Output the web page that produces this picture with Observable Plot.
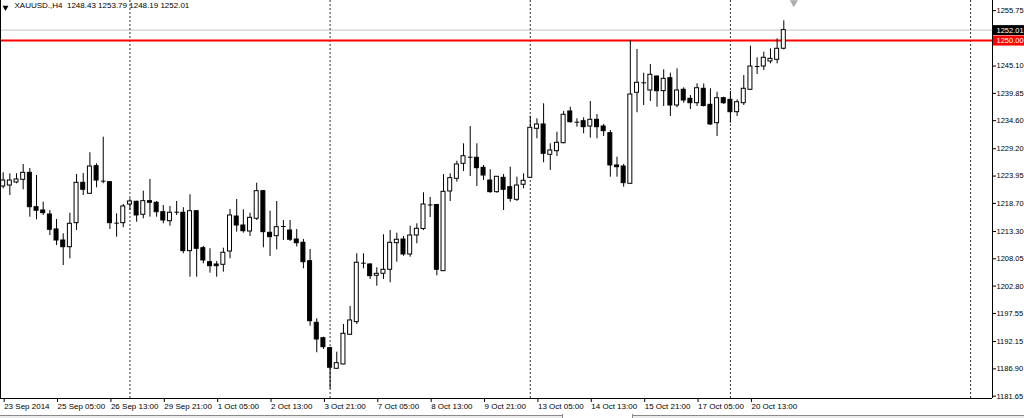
<!DOCTYPE html>
<html><head><meta charset="utf-8">
<script src="https://cdn.jsdelivr.net/npm/d3@7"></script>
<script src="https://cdn.jsdelivr.net/npm/@observablehq/plot@0.6"></script>
<style>
body{margin:0;background:#fff;}
#wrap{position:relative;width:1024px;height:418px;overflow:hidden;}
#tabs{position:absolute;left:0;top:415px;width:1024px;height:3px;background:#ececec;border-top:1px solid #8a8a8a;}
#tab{position:absolute;left:562px;top:414px;width:69px;height:4px;background:#fff;border-left:1px solid #8a8a8a;border-right:1px solid #8a8a8a;}
</style></head><body><div id="wrap"></div>
<script>
const symbolName = "XAUUSD.,H4";
const opens = [1221.95,1222.14,1222.72,1223.24,1224.58,1217.97,1217.34,1216.57,1213.69,1211.57,
1210.28,1214.90,1222.66,1220.55,1225.85,1222.97,1222.78,1214.90,1214.90,1218.49,
1219.01,1216.51,1219.13,1218.82,1217.01,1215.28,1217.01,1216.90,1209.52,1217.20,
1210.09,1207.40,1206.96,1206.90,1209.46,1216.18,1214.45,1213.30,1215.74,1221.05,
1213.05,1212.40,1214.26,1213.49,1211.76,1211.13,1207.59,1195.75,1192.79,1190.87,
1186.91,1187.74,1193.45,1195.87,1207.21,1206.96,1204.79,1205.17,1205.94,1211.05,
1211.76,1208.88,1212.53,1213.78,1218.40,1218.40,1205.67,1220.99,1223.43,1226.31,
1227.58,1227.47,1225.54,1223.10,1220.86,1223.62,1221.82,1219.39,1222.28,1223.62,
1233.04,1233.87,1228.04,1228.73,1230.27,1236.37,1234.31,1234.50,1233.48,1234.77,
1233.48,1232.20,1225.99,1225.79,1222.47,1239.96,1241.88,1240.40,1243.09,1240.27,
1242.77,1237.52,1240.54,1238.81,1237.96,1240.73,1237.65,1234.12,1238.92,1238.61,
1236.23,1237.96,1240.54,1245.01,1245.01,1245.98,1246.30,1248.43];
const highs = [1224.58,1224.39,1224.39,1226.18,1225.41,1224.06,1218.93,1217.34,1215.61,1212.86,
1216.82,1224.26,1224.45,1228.43,1226.31,1231.43,1222.85,1216.70,1218.49,1219.59,
1219.13,1221.05,1223.30,1219.07,1218.30,1218.11,1219.07,1217.86,1220.36,1217.34,
1210.42,1209.98,1207.54,1210.09,1217.53,1219.45,1217.47,1216.82,1222.59,1221.20,
1217.20,1219.07,1215.42,1215.42,1213.69,1211.76,1209.84,1196.52,1192.99,1191.06,
1190.10,1195.43,1198.89,1209.02,1209.02,1207.09,1206.33,1212.67,1213.49,1212.98,
1212.34,1214.32,1214.78,1220.74,1219.84,1218.49,1224.26,1224.39,1226.81,1230.16,
1233.48,1230.16,1225.99,1225.16,1223.87,1224.26,1225.66,1223.74,1224.39,1235.46,
1234.96,1237.85,1230.16,1232.39,1236.37,1237.19,1234.96,1235.15,1238.29,1235.79,
1233.87,1232.71,1227.58,1226.18,1250.00,1248.28,1243.73,1245.40,1243.15,1244.38,
1243.73,1244.57,1240.92,1239.44,1241.69,1241.65,1240.73,1240.08,1239.11,1240.21,
1238.61,1243.28,1248.92,1246.69,1247.76,1248.42,1250.34,1253.79];
const lows = [1221.51,1220.22,1222.47,1221.32,1216.05,1215.55,1216.38,1212.53,1210.61,1206.77,
1208.05,1213.49,1220.22,1220.41,1221.70,1222.47,1213.69,1212.21,1214.01,1217.34,
1215.09,1215.74,1216.05,1216.05,1214.78,1214.32,1216.38,1209.02,1204.52,1204.52,
1207.09,1205.29,1204.52,1205.48,1208.05,1213.17,1212.98,1212.34,1215.42,1210.17,
1208.50,1209.78,1211.57,1211.38,1210.32,1206.13,1195.10,1189.99,1190.62,1183.00,
1186.78,1187.68,1193.31,1195.43,1206.13,1204.08,1202.79,1204.08,1203.44,1207.40,
1208.55,1208.36,1210.94,1213.49,1215.99,1204.79,1205.67,1219.07,1222.78,1224.83,
1223.87,1221.95,1223.10,1220.66,1220.66,1217.34,1218.93,1219.07,1221.51,1223.50,
1231.12,1226.51,1225.03,1227.72,1230.16,1234.12,1233.35,1232.08,1231.23,1231.12,
1231.56,1223.74,1223.74,1221.82,1222.40,1236.12,1237.52,1238.29,1237.19,1237.33,
1235.40,1237.08,1237.96,1236.75,1237.33,1237.23,1233.67,1231.56,1237.71,1234.12,
1235.40,1237.52,1240.40,1243.48,1244.25,1245.53,1245.53,1248.19];
const closes = [1223.10,1223.10,1223.30,1224.58,1217.97,1217.28,1216.82,1213.63,1211.57,1210.28,
1214.78,1222.66,1221.32,1225.79,1223.10,1222.85,1214.90,1214.94,1218.11,1219.07,
1216.38,1219.13,1218.82,1217.01,1215.42,1216.90,1217.01,1209.52,1217.20,1209.98,
1207.73,1206.63,1206.63,1209.21,1216.38,1214.45,1213.36,1215.93,1221.05,1213.17,
1212.21,1214.13,1214.26,1211.71,1211.05,1207.40,1196.06,1192.54,1191.06,1187.11,
1187.99,1193.64,1196.20,1207.29,1207.21,1204.71,1205.17,1205.94,1211.13,1211.71,
1208.88,1212.53,1213.82,1218.49,1218.40,1205.94,1220.93,1223.55,1226.18,1227.77,
1227.47,1225.47,1224.06,1220.86,1223.82,1221.32,1219.59,1222.14,1223.05,1233.23,
1233.87,1228.24,1228.87,1230.35,1235.73,1234.31,1234.31,1233.35,1234.77,1233.35,
1232.58,1225.99,1225.66,1222.59,1239.63,1241.88,1241.88,1243.42,1240.27,1242.65,
1237.52,1240.40,1238.48,1237.96,1240.84,1237.42,1233.87,1238.92,1237.96,1236.23,
1238.15,1240.73,1245.01,1245.01,1246.69,1246.49,1248.42,1252.01];

const priceTicks = [1255.75,1245.10,1239.85,1234.60,1229.20,1223.95,1218.70,1213.30,1208.05,1202.80,1197.55,1192.15,1186.90,1181.65];
const timeTickBars = [0,8,16,24,32,40,48,56,64,72,80,88,96,104,112];
const timeTickLabels = ["23 Sep 2014","25 Sep 05:00","26 Sep 13:00","29 Sep 21:00","1 Oct 05:00","2 Oct 13:00","3 Oct 21:00","7 Oct 05:00","8 Oct 13:00","9 Oct 21:00","13 Oct 05:00","14 Oct 13:00","15 Oct 21:00","17 Oct 05:00","20 Oct 13:00"];
const weekSeparators = [19,49,79,109,145];
const levelLine = 1250.00;
const shiftMarkerBar = 118.5;

const candles = opens.map((o,i)=>({i,o,h:highs[i],l:lows[i],c:closes[i]}));
const last = candles[candles.length-1];
const bid = last.c;
const isDoji = d => Math.abs(d.c-d.o) < 0.15;
const bull = candles.filter(d=>!isDoji(d) && d.c>d.o);
const bear = candles.filter(d=>!isDoji(d) && d.c<d.o);
const doji = candles.filter(isDoji);

const xDom = [-0.4, 148.28];
const xEdge = 153.1;
const yDom = [1181.20, 1257.70];
const f2 = d=>d.toFixed(2);
const title = `${symbolName}  ${f2(last.o)} ${f2(last.h)} ${f2(last.l)} ${f2(last.c)}`;

const chart = Plot.plot({
  width:1024, height:418,
  marginTop:0, marginBottom:20, marginLeft:0, marginRight:32,
  style:{fontFamily:"Liberation Sans, Arial, sans-serif", fontSize:"8px", color:"#000", background:"#fff", overflow:"visible"},
  x:{type:"linear", domain:xDom, axis:null},
  y:{type:"linear", domain:yDom, axis:null},
  marks:[
    Plot.ruleY([bid], {stroke:"#c4c4c4"}),
    Plot.ruleX(weekSeparators, {x:d=>d, stroke:"#333", strokeDasharray:"2,2"}),
    Plot.ruleY([levelLine], {stroke:"#ff0000", strokeWidth:2}),
    Plot.ruleX(candles, {x:"i", y1:"l", y2:"h", stroke:"#000"}),
    Plot.rect(bull, {x1:d=>d.i-0.3, x2:d=>d.i+0.3, y1:"o", y2:"c", fill:"#fff", stroke:"#000"}),
    Plot.rect(bear, {x1:d=>d.i-0.3, x2:d=>d.i+0.3, y1:"o", y2:"c", fill:"#000", stroke:"#000"}),
    Plot.link(doji, {x1:d=>d.i-0.35, x2:d=>d.i+0.35, y1:"o", y2:"o", stroke:"#000"}),
    Plot.ruleX([xDom[0]], {stroke:"#000"}),
    Plot.ruleX([xDom[1]], {stroke:"#000"}),
    Plot.ruleY([yDom[0]], {stroke:"#000", x1:xDom[0], x2:xDom[1]}),
    Plot.axisY(priceTicks, {anchor:"right", tickSize:3, tickPadding:1, tickFormat:f2, fontSize:7.5, label:null}),
    Plot.axisX(timeTickBars, {anchor:"bottom", tickSize:4, tickPadding:1, textAnchor:"start", dx:1, fontSize:8, label:null,
      tickFormat:d=>timeTickLabels[timeTickBars.indexOf(d)]}),
    Plot.ruleY([bid], {x1:xDom[1]+0.15, x2:xEdge, stroke:"#000", strokeWidth:10}),
    Plot.text([bid], {x:xDom[1], y:d=>d, dx:4, text:f2, fill:"#fff", textAnchor:"start", fontSize:7.5}),
    Plot.ruleY([levelLine], {x1:xDom[1]+0.15, x2:xEdge, stroke:"#ff0000", strokeWidth:10}),
    Plot.text([levelLine], {x:xDom[1], y:d=>d, dx:4, text:f2, fill:"#fff", textAnchor:"start", fontSize:7.5}),
    Plot.text([title], {frameAnchor:"top-left", dx:14, dy:2, lineAnchor:"top", textAnchor:"start", fontSize:8, fill:"#000"}),
    Plot.dot([0], {frameAnchor:"top-left", dx:5, dy:7, symbol:"triangle", rotate:180, r:2.2, fill:"#000", stroke:null}),
    Plot.dot([shiftMarkerBar], {x:d=>d, frameAnchor:"top", dy:2, symbol:"triangle", rotate:180, r:3, fill:"#aaa", stroke:null})
  ]
});
const wrap = document.getElementById("wrap");
wrap.appendChild(chart);
const tabs = document.createElement("div"); tabs.id="tabs"; wrap.appendChild(tabs);
const tab = document.createElement("div"); tab.id="tab"; wrap.appendChild(tab);
</script></body></html>
